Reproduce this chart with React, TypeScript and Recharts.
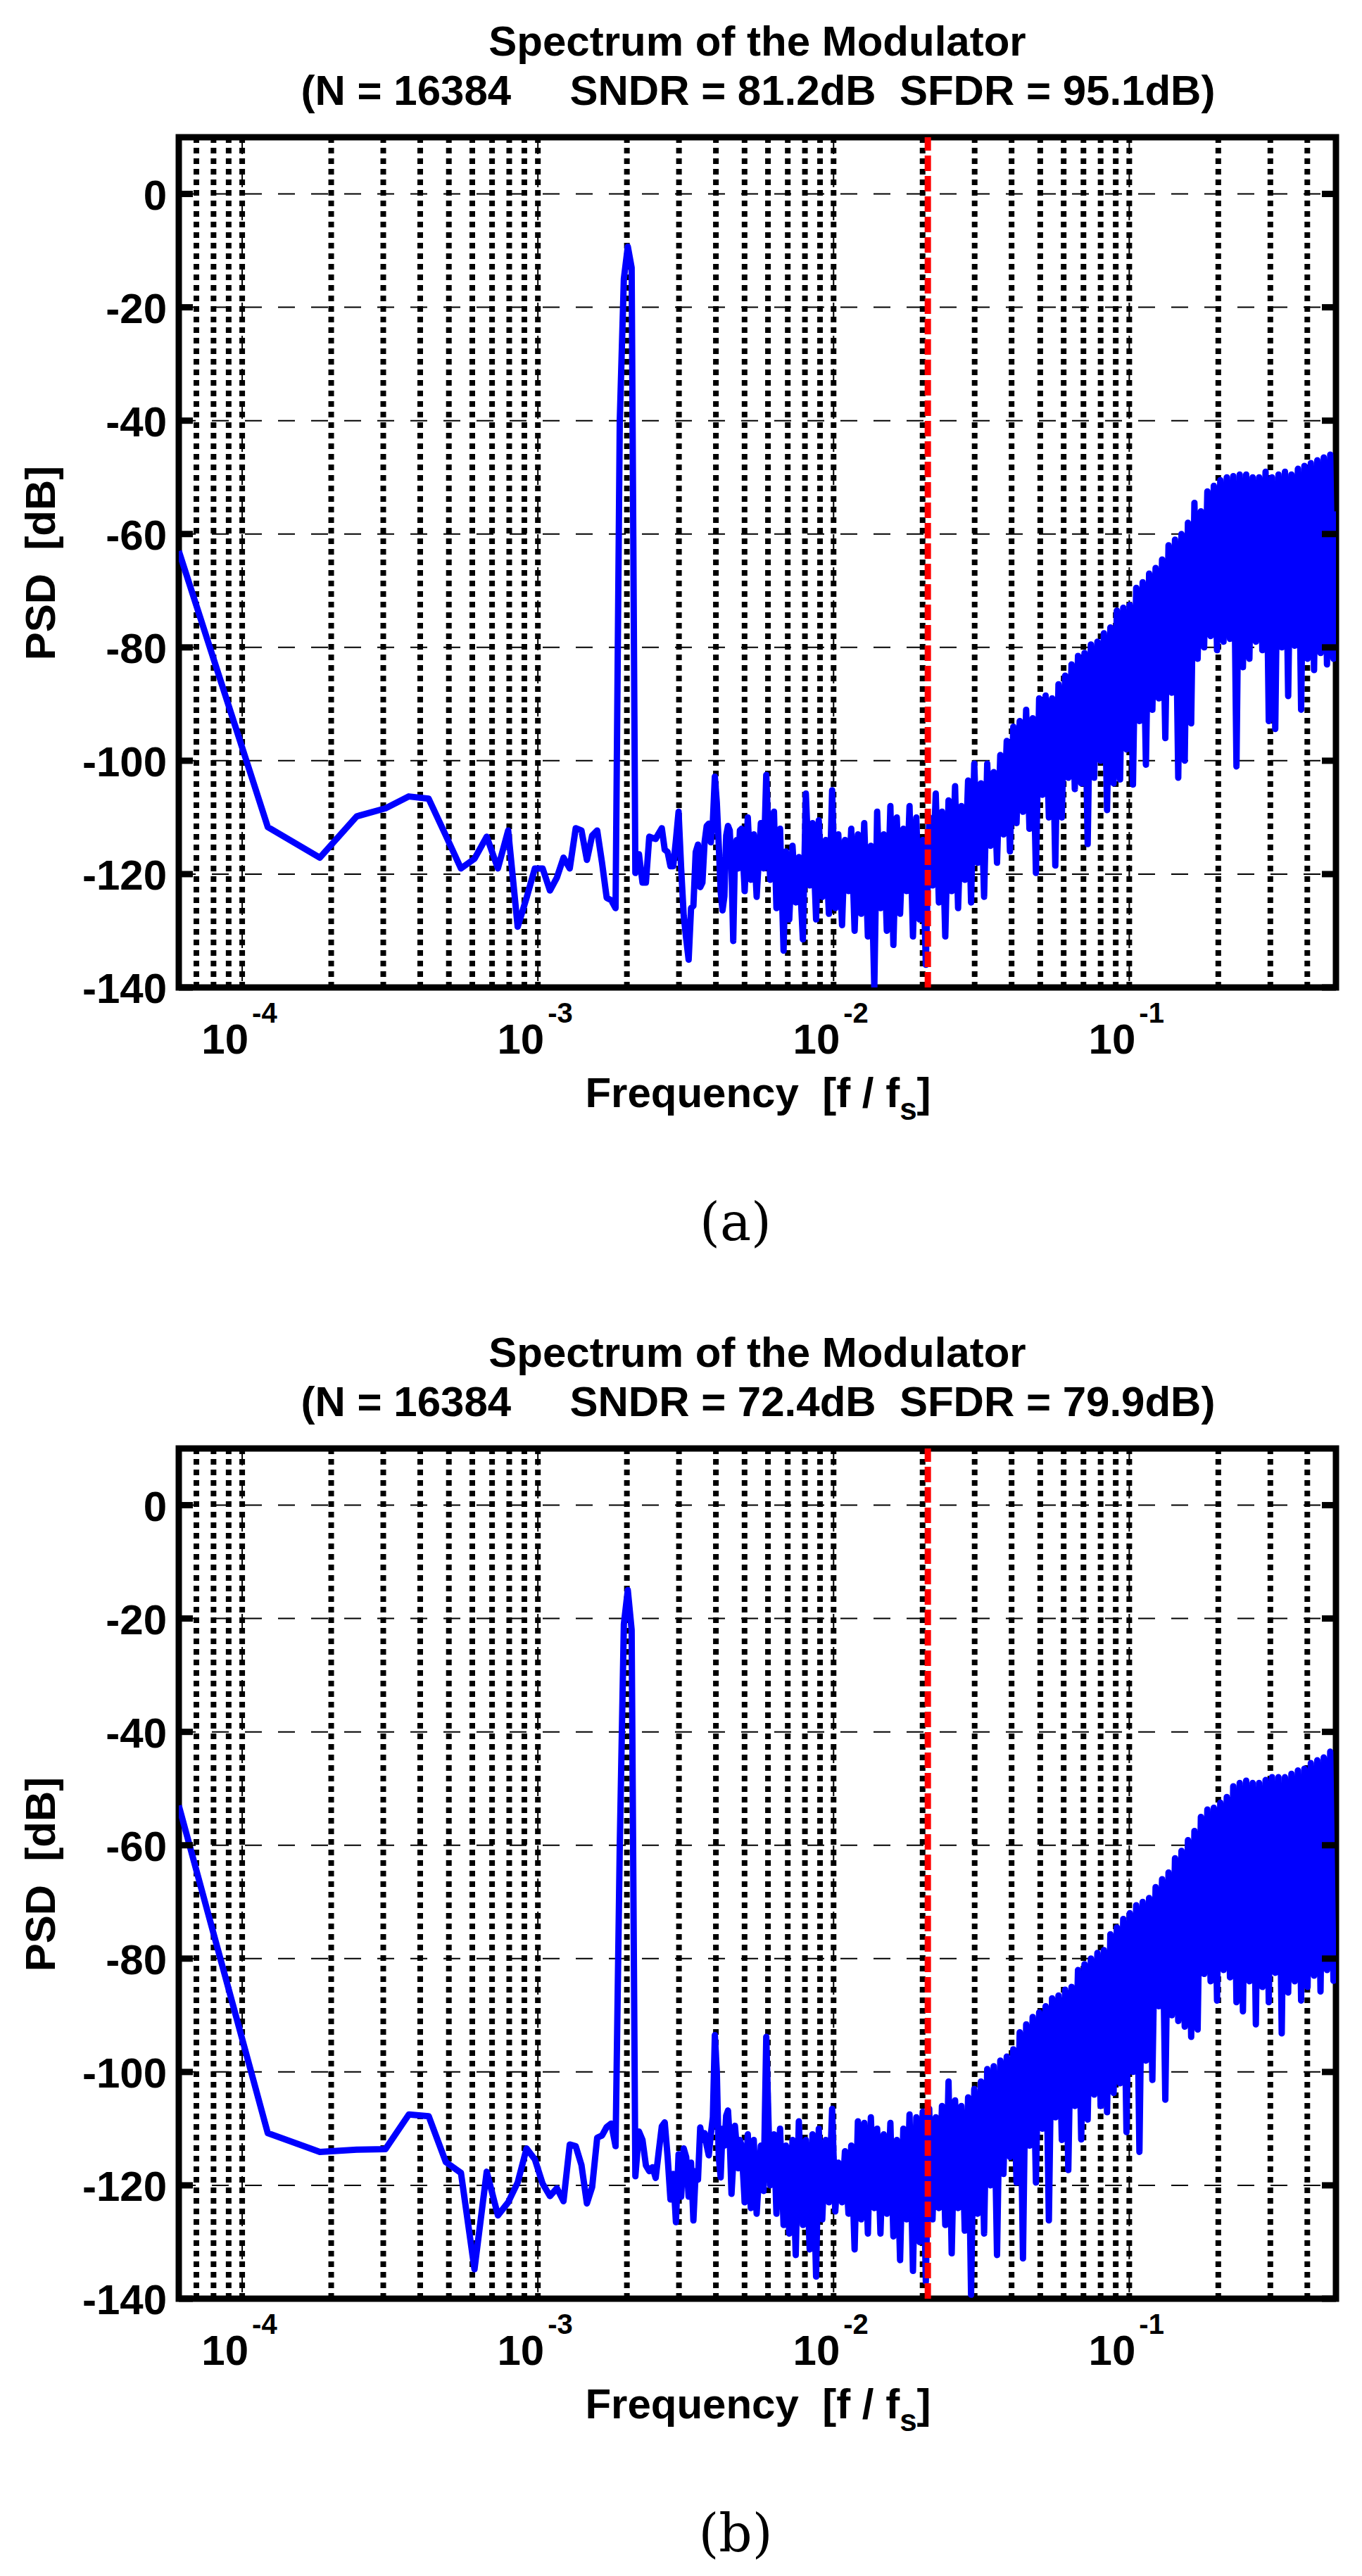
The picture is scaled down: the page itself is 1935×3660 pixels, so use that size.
import {
  LineChart,
  Line,
  XAxis,
  YAxis,
  CartesianGrid,
  ReferenceLine,
  ReferenceArea,
} from "recharts";

// FFT length, bins are k / N
const N = 16384;
const XMIN = 1 / N;
const XMAX = 0.5;
const BAND_EDGE = 1 / 48; // red dashed line

const lowBins = [
  1, 2, 3, 4, 5, 6, 7, 8, 9, 10,
  11, 12, 13, 14, 15, 16, 17, 18, 19, 20,
  21, 22, 23, 24, 25, 26, 27, 28, 29, 30,
  31, 32, 33, 34, 35, 36, 37, 38, 39, 40,
  41, 42, 43, 44, 45, 46, 47, 48, 49, 50,
  51, 52, 53, 54, 55, 56, 57, 58, 59, 60,
  61, 62, 63, 64, 65, 66, 67, 68, 69, 70,
  71, 72, 73, 74, 75, 76, 77, 78, 79,
];

const denseBins = [
  80, 82, 84, 86, 88, 90, 93, 95, 97, 100,
  103, 105, 108, 111, 113, 116, 119, 122, 125, 129,
  132, 136, 139, 143, 146, 150, 154, 158, 162, 166,
  170, 175, 179, 184, 188, 193, 198, 203, 208, 214,
  219, 225, 230, 236, 242, 248, 255, 261, 268, 275,
  282, 289, 296, 304, 312, 320, 328, 336, 345, 354,
  363, 372, 381, 391, 401, 411, 422, 432, 443, 455,
  467, 478, 490, 503, 516, 529, 542, 556, 570, 585,
  600, 615, 631, 647, 664, 681, 698, 716, 734, 753,
  772, 792, 812, 833, 854, 876, 898, 921, 944, 969,
  994, 1019, 1045, 1072, 1099, 1127, 1156, 1185, 1215, 1246,
  1278, 1311, 1344, 1378, 1414, 1450, 1487, 1525, 1563, 1603,
  1644, 1686, 1729, 1773, 1818, 1865, 1912, 1961, 2011, 2062,
  2115, 2169, 2224, 2281, 2339, 2399, 2460, 2523, 2587, 2653,
  2721, 2790, 2861, 2934, 3009, 3086, 3164, 3245, 3328, 3413,
  3500, 3589, 3681, 3775, 3871, 3970, 4071, 4175, 4281, 4390,
  4502, 4617, 4735, 4855, 4979, 5106, 5236, 5370, 5507, 5647,
  5791, 5939, 6090, 6246, 6405, 6568, 6736, 6907, 7084, 7264,
  7449, 7639, 7834, 8034, 8192,
];

// panel (a)
const psdLowA = [
  -63, -111.7, -117.1, -109.8, -108.4, -106.3, -106.7, -113.2, -119, -117.3,
  -113.4, -119, -112.3, -129.3, -124.2, -119, -119, -122.9, -120.6, -117.1,
  -119, -111.9, -112.3, -117.5, -113.2, -112.3, -118, -124.2, -124.6, -126,
  -40, -15, -9.3, -13, -119.8, -116.5, -121.5, -121.5, -113.4, -113.6,
  -113.8, -112.8, -111.9, -115.7, -116.1, -118.6, -118.6, -114, -109, -119,
  -127.3, -131.4, -135.1, -126, -125.6, -116.1, -114.8, -122.3, -121.5, -114.4,
  -111.5, -111.1, -114.4, -110.7, -102.8, -107.4, -114.8, -123.1, -126.4, -123.9,
  -113.2, -111.5, -112.3, -119, -131.8, -116.5, -114, -119, -112.3,
];

const psdDenseA = [
  -112, -123, -110, -121, -113, -124, -111, -119, -102.5, -121,
  -109, -126, -112, -133.5, -116, -128, -115, -125, -117, -131.5,
  -105.8, -122, -111, -128, -110.5, -124, -114, -127, -105.2, -126,
  -113, -129, -114, -123, -112, -130, -113, -127, -111, -131,
  -115, -140, -109, -126, -113, -130, -108, -132.5, -110, -127,
  -112, -123, -108, -131, -110, -128, -114, -136, -110, -122,
  -105.8, -125, -109, -131, -107, -123, -104.5, -126, -108, -121,
  -103.5, -125, -100.5, -118, -104, -124, -100.5, -115, -102, -118,
  -99, -113, -96.5, -116, -94, -111, -93, -109, -91, -112,
  -92.5, -119.8, -89, -106, -88.5, -110, -89, -118.5, -86.5, -110,
  -85, -103, -83, -105, -81.5, -104, -81, -114.7, -79.5, -103,
  -79, -100, -77.5, -108.7, -76.5, -104, -73.5, -103.3, -73, -98,
  -72.5, -104.2, -69.5, -93, -68.5, -100.7, -67, -91, -66, -89,
  -64.5, -96, -62, -88, -61, -103, -60, -100, -58, -93.4,
  -54.5, -82, -56, -80, -52.5, -78, -51.5, -80.5, -50.5, -79,
  -50, -78.5, -49.8, -101, -49.5, -83.5, -49.5, -82, -50, -79,
  -50, -80.5, -49, -93, -50, -94.4, -49.5, -80, -49, -88.6,
  -49.5, -79.7, -48.5, -91, -48, -82, -47.5, -84, -47, -81,
  -46.5, -83, -46, -82, -56,
];

// panel (b)
const psdLowB = [
  -53, -110.8, -114.1, -113.7, -113.6, -107.5, -107.8, -115.9, -117.8, -134.8,
  -117.6, -125.3, -123, -119.5, -113.5, -115.4, -119.7, -121.9, -120.5, -122.8,
  -112.8, -113.1, -116.4, -123.2, -120.3, -111.6, -111.2, -109.7, -109.1, -113.1,
  -60, -21, -15, -22, -118.4, -110.5, -112, -116.5, -117.5, -116.8,
  -118.7, -114, -109.6, -108.9, -115, -122.5, -118, -126.5, -114.5, -122,
  -113.5, -115, -122, -116, -126.2, -117.5, -119, -109.8, -112, -110.8,
  -113, -114.7, -111, -108, -93.5, -100, -115, -118.6, -110, -113,
  -107.7, -106.8, -112, -121.5, -116, -109.5, -113, -117, -112,
];

const psdDenseB = [
  -113, -123, -111, -124, -112, -125, -113, -121, -93.8, -120,
  -111, -125, -110, -127, -113, -128.5, -112, -132.3, -108.7, -127,
  -112, -131.3, -111, -136.1, -110, -126, -112, -123, -106.5, -124.6,
  -116, -123, -114, -125, -113, -131.3, -108.7, -126, -109, -128.5,
  -108, -124, -110, -128.5, -111, -125, -109, -129, -112, -133.2,
  -110, -126, -107.5, -135.1, -108, -130, -107, -137, -106.5, -126,
  -108, -124, -106, -127, -101.7, -132, -105, -124, -106, -128,
  -104.5, -139.3, -103, -125, -101.7, -128.5, -99.5, -120, -99, -132.3,
  -98, -118, -97.3, -115, -96, -119.5, -93, -132.9, -91.6, -113,
  -90.3, -119.5, -89.5, -110, -88.4, -126.2, -87, -108, -86.5, -112,
  -85.5, -117.3, -85, -106, -82, -111.9, -81, -108.4, -80, -104,
  -79, -106, -78.5, -107.1, -75.7, -103.7, -74.5, -102, -73, -110.6,
  -72, -100, -70.6, -114.1, -70, -98, -69.3, -101.4, -67.4, -88.4,
  -66, -104.9, -64.8, -90, -62.3, -91, -61, -92, -59.1, -93.8,
  -57.5, -92.5, -55, -82.7, -53.7, -84, -53.4, -87.4, -52.5, -82,
  -51.5, -83.3, -49.6, -87.7, -49, -89.3, -48.6, -84, -49, -91.6,
  -49, -85, -48.5, -87.7, -48, -82.5, -48, -93.2, -48, -86,
  -47.4, -84, -46.8, -87.4, -46.5, -85, -45.5, -83, -45, -85.8,
  -44.5, -82, -43.5, -83.9, -82,
];

const yTicks = [-140, -120, -100, -80, -60, -40, -20, 0];
const xTicks = [1e-4, 1e-3, 1e-2, 1e-1];
const xTickExp = ["-4", "-3", "-2", "-1"];
const minorGrid = [
  7e-5, 8e-5, 9e-5,
  1e-4, 2e-4, 3e-4, 4e-4, 5e-4, 6e-4, 7e-4, 8e-4, 9e-4,
  1e-3, 2e-3, 3e-3, 4e-3, 5e-3, 6e-3, 7e-3, 8e-3, 9e-3,
  1e-2, 2e-2, 3e-2, 4e-2, 5e-2, 6e-2, 7e-2, 8e-2, 9e-2,
  1e-1, 2e-1, 3e-1, 4e-1,
];

const panels = [
  { caption: "(a)", sndr: "81.2", sfdr: "95.1", low: psdLowA, dense: psdDenseA, top: 0 },
  { caption: "(b)", sndr: "72.4", sfdr: "79.9", low: psdLowB, dense: psdDenseB, top: 1863 },
];

const FONT = "'Liberation Sans', Arial, Helvetica, sans-serif";
const CHART_W = 1935;
const CHART_H = 1800;
const PLOT_L = 254;
const PLOT_R = 1898;
const PLOT_T = 195;
const PLOT_B = 1403;
const PLOT_W = PLOT_R - PLOT_L;

const renderXTick = ({ x, y, payload }: any) => {
  const i = xTicks.findIndex((t) => Math.abs(t - payload.value) < t * 1e-6);
  return (
    <g>
      <text x={x + 9} y={y + 94} textAnchor="end" fontSize={60} fontWeight="bold" fontFamily={FONT} fill="#000">
        10
      </text>
      <text x={x + 14} y={y + 50} textAnchor="start" fontSize={40} fontWeight="bold" fontFamily={FONT} fill="#000">
        {xTickExp[i]}
      </text>
    </g>
  );
};

const renderYTick = ({ x, y, payload }: any) => (
  <g>
    <line x1={x} x2={x + 20} y1={y} y2={y} stroke="#000" strokeWidth={9} />
    <line x1={x + PLOT_W} x2={x + PLOT_W - 20} y1={y} y2={y} stroke="#000" strokeWidth={9} />
    <text x={x - 17} y={y + 22} textAnchor="end" fontSize={60} fontWeight="bold" fontFamily={FONT} fill="#000">
      {payload.value}
    </text>
  </g>
);

function Spectrum({ low, dense }: { low: number[]; dense: number[] }) {
  const rows = [
    ...lowBins.map((k, i) => ({ f: k / N, psd: low[i] })),
    ...denseBins.map((k, i) => ({ f: k / N, psd: dense[i] })),
  ];
  return (
    <LineChart
      width={CHART_W}
      height={CHART_H}
      data={rows}
      margin={{ top: PLOT_T, right: CHART_W - PLOT_R, bottom: CHART_H - PLOT_B - 100, left: PLOT_L - 100 }}
    >
      <CartesianGrid stroke="#000" strokeWidth={2} strokeDasharray="24 23" />
      <XAxis
        dataKey="f"
        type="number"
        scale="log"
        domain={[XMIN, XMAX]}
        allowDataOverflow
        ticks={xTicks}
        interval={0}
        tick={renderXTick}
        tickLine={false}
        axisLine={false}
        tickSize={0}
        tickMargin={0}
        height={100}
      />
      <YAxis
        type="number"
        domain={[-140, 10]}
        allowDataOverflow
        ticks={yTicks}
        interval={0}
        tick={renderYTick}
        tickLine={false}
        axisLine={false}
        tickSize={0}
        tickMargin={0}
        width={100}
      />
      {minorGrid.map((v) => (
        <ReferenceLine key={v} x={v} stroke="#000" strokeWidth={8} strokeDasharray="8 7" />
      ))}
      <ReferenceArea
        x1={XMIN}
        x2={XMAX}
        y1={-140}
        y2={10}
        fill="none"
        fillOpacity={0}
        stroke="#000"
        strokeWidth={9}
        ifOverflow="visible"
      />
      <Line
        type="linear"
        dataKey="psd"
        stroke="#0000ff"
        strokeWidth={9}
        strokeLinejoin="round"
        dot={false}
        activeDot={false}
        isAnimationActive={false}
      />
      <ReferenceLine x={BAND_EDGE} stroke="#ff0000" strokeWidth={9} strokeDasharray="22 7" />
    </LineChart>
  );
}

export default function App() {
  return (
    <div style={{ position: "absolute", left: 0, top: 0, width: 1935, height: 3660, background: "#fff" }}>
      {panels.map((p) => (
        <div key={p.caption} style={{ position: "absolute", left: 0, top: p.top }}>
          <Spectrum low={p.low} dense={p.dense} />
        </div>
      ))}
      <svg width={1935} height={3660} style={{ position: "absolute", left: 0, top: 0, pointerEvents: "none" }}>
        {panels.map((p) => (
          <g key={p.caption} transform={`translate(0, ${p.top})`} fontFamily={FONT} fontWeight="bold" fill="#000">
            <text x={1076} y={79} textAnchor="middle" fontSize={60}>
              Spectrum of the Modulator
            </text>
            <text x={1077} y={149} textAnchor="middle" fontSize={60} style={{ whiteSpace: "pre" }}>
              {`(N = 16384     SNDR = ${p.sndr}dB  SFDR = ${p.sfdr}dB)`}
            </text>
            <text x={1077} y={1573} textAnchor="middle" fontSize={60} style={{ whiteSpace: "pre" }}>
              <tspan>{"Frequency  [f / f"}</tspan>
              <tspan fontSize={44} dy={18}>s</tspan>
              <tspan dy={-18}>]</tspan>
            </text>
            <text
              x={78}
              y={800}
              transform="rotate(-90, 78, 800)"
              textAnchor="middle"
              fontSize={60}
              style={{ whiteSpace: "pre" }}
            >
              PSD  [dB]
            </text>
            <text
              x={1045}
              y={1762}
              textAnchor="middle"
              fontSize={74}
              fontWeight="normal"
              fontFamily="'DejaVu Serif', 'Liberation Serif', serif"
            >
              {p.caption}
            </text>
          </g>
        ))}
      </svg>
    </div>
  );
}
